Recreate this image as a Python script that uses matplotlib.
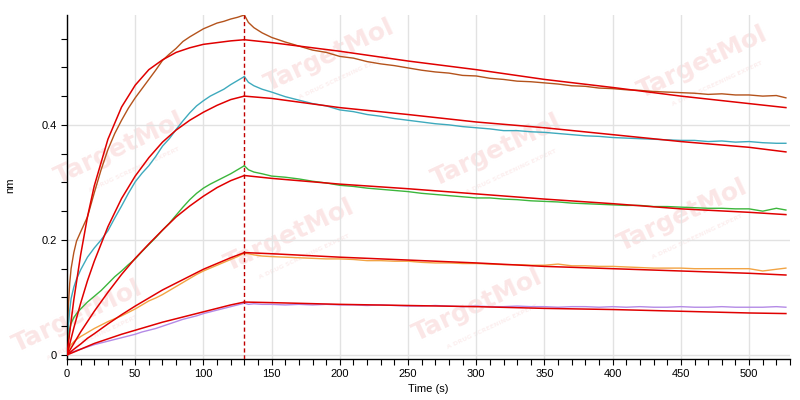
import matplotlib
matplotlib.use("Agg")
import matplotlib.pyplot as plt
from matplotlib.ticker import MultipleLocator

# time axes (s)
t_assoc = [0, 1, 2, 3, 5, 7, 10, 15, 20, 25, 30, 35, 40, 45, 50, 55, 60, 65, 70,
           75, 80, 85, 90, 95, 100, 105, 110, 115, 120, 125, 130]
t_dissoc = [130, 133, 137, 143, 150, 160, 170, 180, 190, 200, 210, 220, 230, 240,
            250, 260, 270, 280, 290, 300, 310, 320, 330, 340, 350, 360, 370, 380,
            390, 400, 410, 420, 430, 440, 450, 460, 470, 480, 490, 500, 510, 520, 527]
t_fit_assoc = [0, 2, 5, 10, 15, 20, 30, 40, 50, 60, 70, 80, 90, 100, 110, 120, 130]
t_fit_dissoc = [130, 150, 200, 250, 300, 350, 400, 450, 500, 527]

# measured responses (nm)
brown_assoc = [0.000, 0.085, 0.125, 0.150, 0.178, 0.198, 0.214, 0.240, 0.282, 0.322,
               0.357, 0.385, 0.408, 0.429, 0.447, 0.463, 0.479, 0.495, 0.512, 0.523,
               0.533, 0.545, 0.553, 0.560, 0.567, 0.572, 0.577, 0.580, 0.584, 0.587, 0.591]
brown_dissoc = [0.591, 0.578, 0.569, 0.560, 0.552, 0.544, 0.537, 0.530, 0.526, 0.519,
                0.516, 0.510, 0.506, 0.503, 0.499, 0.495, 0.492, 0.490, 0.486, 0.485,
                0.481, 0.479, 0.476, 0.475, 0.473, 0.471, 0.468, 0.467, 0.464, 0.463,
                0.461, 0.460, 0.458, 0.457, 0.456, 0.455, 0.453, 0.454, 0.452, 0.452,
                0.450, 0.451, 0.447]
teal_assoc = [0.000, 0.050, 0.078, 0.098, 0.118, 0.132, 0.148, 0.170, 0.186, 0.200,
              0.216, 0.238, 0.259, 0.281, 0.301, 0.316, 0.329, 0.345, 0.363, 0.376,
              0.392, 0.407, 0.421, 0.433, 0.442, 0.450, 0.456, 0.462, 0.470, 0.477, 0.484]
teal_dissoc = [0.484, 0.474, 0.468, 0.462, 0.457, 0.449, 0.443, 0.437, 0.433, 0.426,
               0.423, 0.418, 0.415, 0.411, 0.408, 0.405, 0.402, 0.400, 0.397, 0.395,
               0.393, 0.390, 0.390, 0.388, 0.387, 0.385, 0.383, 0.381, 0.380, 0.378,
               0.377, 0.376, 0.375, 0.374, 0.373, 0.373, 0.371, 0.372, 0.370, 0.371,
               0.369, 0.368, 0.368]
green_assoc = [0.000, 0.025, 0.045, 0.055, 0.065, 0.072, 0.080, 0.092, 0.102, 0.112,
               0.124, 0.136, 0.146, 0.157, 0.167, 0.180, 0.192, 0.204, 0.217, 0.229,
               0.243, 0.257, 0.270, 0.281, 0.290, 0.297, 0.303, 0.309, 0.315, 0.322, 0.329]
green_dissoc = [0.329, 0.322, 0.318, 0.315, 0.311, 0.309, 0.306, 0.302, 0.299, 0.295,
                0.293, 0.290, 0.288, 0.286, 0.284, 0.281, 0.279, 0.277, 0.275, 0.273,
                0.273, 0.271, 0.270, 0.268, 0.267, 0.266, 0.264, 0.263, 0.262, 0.261,
                0.260, 0.260, 0.258, 0.258, 0.257, 0.256, 0.255, 0.255, 0.254, 0.254,
                0.250, 0.255, 0.252]
orange_assoc = [0.000, 0.008, 0.014, 0.018, 0.023, 0.027, 0.032, 0.039, 0.046, 0.052,
                0.058, 0.063, 0.068, 0.074, 0.080, 0.087, 0.094, 0.099, 0.105, 0.112,
                0.119, 0.126, 0.133, 0.140, 0.146, 0.151, 0.156, 0.161, 0.166, 0.171, 0.177]
orange_dissoc = [0.177, 0.176, 0.174, 0.172, 0.171, 0.170, 0.169, 0.168, 0.167, 0.167,
                 0.166, 0.164, 0.164, 0.163, 0.163, 0.161, 0.160, 0.160, 0.159, 0.159,
                 0.158, 0.157, 0.157, 0.156, 0.156, 0.158, 0.155, 0.155, 0.154, 0.154,
                 0.153, 0.152, 0.151, 0.151, 0.151, 0.150, 0.150, 0.150, 0.150, 0.150,
                 0.146, 0.149, 0.151]
purple_assoc = [0.000, 0.002, 0.004, 0.005, 0.006, 0.008, 0.010, 0.014, 0.018, 0.021,
                0.024, 0.027, 0.030, 0.033, 0.036, 0.040, 0.043, 0.046, 0.050, 0.054,
                0.058, 0.062, 0.065, 0.068, 0.072, 0.075, 0.078, 0.081, 0.084, 0.087, 0.090]
purple_dissoc = [0.090, 0.088, 0.089, 0.088, 0.088, 0.087, 0.088, 0.087, 0.088, 0.087,
                 0.087, 0.086, 0.087, 0.086, 0.085, 0.085, 0.086, 0.085, 0.084, 0.085,
                 0.084, 0.084, 0.085, 0.084, 0.084, 0.083, 0.084, 0.084, 0.083, 0.084,
                 0.083, 0.084, 0.083, 0.083, 0.084, 0.083, 0.083, 0.084, 0.083, 0.083,
                 0.083, 0.084, 0.083]

# fitted curves (nm)
brown_fit_a = [0, 0.040, 0.096, 0.174, 0.240, 0.294, 0.375, 0.431, 0.469, 0.496, 0.513,
               0.526, 0.534, 0.540, 0.543, 0.546, 0.548]
brown_fit_d = [0.548, 0.543, 0.528, 0.511, 0.496, 0.479, 0.465, 0.450, 0.437, 0.430]
teal_fit_a = [0, 0.019, 0.047, 0.090, 0.129, 0.163, 0.223, 0.272, 0.311, 0.343, 0.370,
              0.391, 0.408, 0.422, 0.434, 0.444, 0.450]
teal_fit_d = [0.450, 0.446, 0.430, 0.418, 0.405, 0.395, 0.383, 0.371, 0.361, 0.353]
green_fit_a = [0, 0.008, 0.020, 0.040, 0.058, 0.076, 0.109, 0.140, 0.168, 0.193, 0.217,
               0.240, 0.259, 0.276, 0.291, 0.303, 0.312]
green_fit_d = [0.312, 0.307, 0.297, 0.289, 0.280, 0.271, 0.263, 0.254, 0.248, 0.244]
orange_fit_a = [0, 0.004, 0.010, 0.019, 0.029, 0.037, 0.054, 0.070, 0.085, 0.099, 0.113,
                0.125, 0.137, 0.149, 0.159, 0.169, 0.178]
orange_fit_d = [0.178, 0.176, 0.170, 0.165, 0.160, 0.154, 0.150, 0.146, 0.142, 0.139]
purple_fit_a = [0, 0.002, 0.005, 0.010, 0.015, 0.020, 0.028, 0.036, 0.043, 0.050, 0.057,
                0.063, 0.069, 0.075, 0.081, 0.087, 0.092]
purple_fit_d = [0.092, 0.091, 0.088, 0.086, 0.084, 0.081, 0.079, 0.076, 0.073, 0.072]

series = [
    ("#b4531c", brown_assoc, brown_dissoc, brown_fit_a, brown_fit_d),
    ("#3eaabd", teal_assoc, teal_dissoc, teal_fit_a, teal_fit_d),
    ("#3cb63c", green_assoc, green_dissoc, green_fit_a, green_fit_d),
    ("#f2a444", orange_assoc, orange_dissoc, orange_fit_a, orange_fit_d),
    ("#b48ae6", purple_assoc, purple_dissoc, purple_fit_a, purple_fit_d),
]

# watermark centres in pixels (x from left, y from top)
wm_x = [330, 703, 120, 497, 290, 683, 78, 478]
wm_y = [55, 62, 148, 150, 235, 215, 316, 305]

plt.rcParams['font.family'] = ['Liberation Sans', 'DejaVu Sans']

fig = plt.figure(figsize=(8, 4), dpi=100)
ax = fig.add_axes([67 / 800, 41 / 400, 723 / 800, 344 / 400])
ax.patch.set_alpha(0)

for cx, cy in zip(wm_x, wm_y):
    fig.text(cx / 800, 1 - cy / 400, "TargetMol", fontsize=18, fontweight='bold',
             family='DejaVu Sans', color='#fbe6e6', rotation=25,
             ha='center', va='center', zorder=-2)
    fig.text((cx + 14) / 800, 1 - (cy + 22) / 400, "A DRUG SCREENING EXPERT",
             fontsize=4.5, fontweight='bold', family='DejaVu Sans', color='#fcefef',
             rotation=25, ha='center', va='center', zorder=-2)

for color, ra, rd, fa, fd in series:
    ax.plot(t_assoc, ra, color=color, lw=1.0, zorder=2)
    ax.plot(t_dissoc, rd, color=color, lw=1.0, zorder=2)
for color, ra, rd, fa, fd in series:
    ax.plot(t_fit_assoc, fa, color='#e00000', lw=1.1, zorder=3)
    ax.plot(t_fit_dissoc, fd, color='#e00000', lw=1.1, zorder=3)

ax.axvline(130, color='#c00000', lw=1.0, ls=(0, (3, 2)), zorder=4)

ax.set_xlim(0, 530)
ax.set_ylim(-0.007, 0.591)
ax.xaxis.set_major_locator(MultipleLocator(50))
ax.xaxis.set_minor_locator(MultipleLocator(10))
ax.yaxis.set_minor_locator(MultipleLocator(0.05))
ax.set_yticks([0, 0.2, 0.4])
ax.set_yticklabels(["0", "0.2", "0.4"])

ax.grid(True, which='major', color='#e2e2e2', lw=1.0, zorder=0)
ax.set_axisbelow(True)
for s in ['top', 'right']:
    ax.spines[s].set_visible(False)
for s in ['left', 'bottom']:
    ax.spines[s].set_linewidth(1.0)
ax.tick_params(which='both', direction='out', length=4, width=0.8, labelsize=8,
               colors='black')
ax.tick_params(axis='x', pad=3)

ax.set_xlabel("Time (s)", fontsize=8, labelpad=4)
fig.text(10 / 800, 1 - 185 / 400, "nm", fontsize=8, rotation=90,
         ha='center', va='center')

fig.savefig("out.png", dpi=100)
